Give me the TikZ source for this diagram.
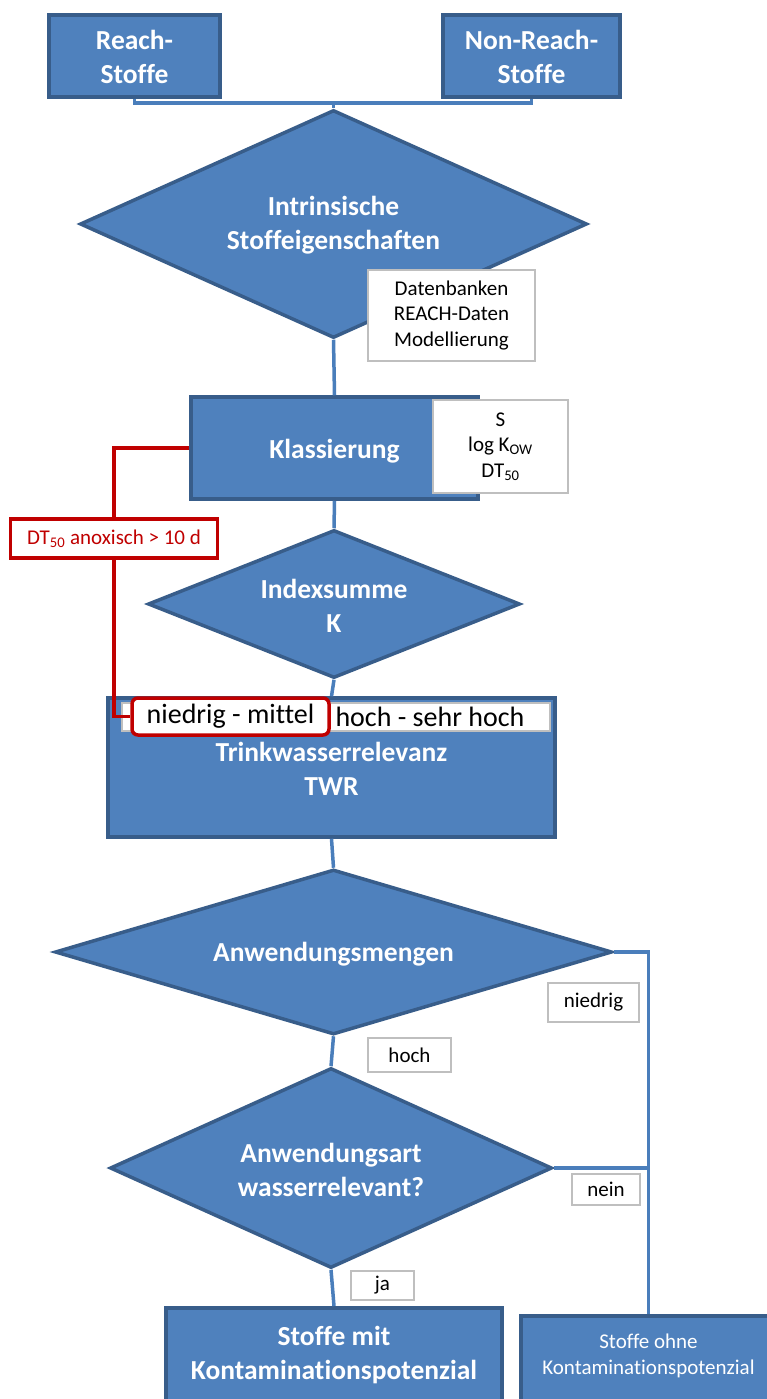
\documentclass[tikz,border=0pt]{standalone}
\usepackage{fontspec}
\setmainfont{Carlito}[Ligatures=NoCommon]
\usetikzlibrary{shapes.geometric}
\definecolor{fillb}{HTML}{4F81BD}
\definecolor{edgeb}{HTML}{385D8A}
\definecolor{lineb}{HTML}{4A7EBB}
\definecolor{redc}{HTML}{C00000}
\definecolor{grayc}{HTML}{BFBFBF}
\newcommand\myBig{\fontsize{27.5}{34}\selectfont\bfseries}
\newcommand\myMid{\fontsize{28}{32}\selectfont}
\newcommand\mySmall{\fontsize{21}{25.5}\selectfont}
\tikzset{
  bluebox/.style={draw=edgeb, fill=fillb, line width=3.5pt, inner sep=0pt},
  bluedia/.style={diamond, draw=edgeb, fill=fillb, line width=3.5pt, inner sep=0pt},
  conn/.style={draw=lineb, line width=3.5pt, line join=miter},
  redline/.style={draw=redc, line width=3.5pt, line join=miter},
  lbl/.style={draw=grayc, fill=white, line width=2.5pt, inner sep=0pt, font=\mySmall, align=center},
  wtext/.style={text=white, align=center, inner sep=0pt, font=\myBig}
}
\begin{document}
\begin{tikzpicture}[x=1pt,y=-1pt]
\useasboundingbox (0,0) rectangle (767,1399);
\clip (0,0) rectangle (767,1399);
\fill[white] (0,0) rectangle (767,1399);

% top boxes
\node[bluebox, minimum width=171pt, minimum height=82pt] (reach) at (134.5,56) {};
\node[wtext] (reacht) at (134.5,57) {Reach-\\Stoffe};
\node[bluebox, minimum width=177pt, minimum height=82pt] (nonreach) at (531.5,56) {};
\node[wtext] (nonreacht) at (531.5,57) {Non-Reach-\\Stoffe};
\coordinate (j) at (333.5,103);

% diamonds and boxes
\node[bluedia, minimum width=507pt, minimum height=228pt] (d1) at (333.5,224) {};
\node[wtext] (d1t) at (333.5,225) {Intrinsische\\Stoffeigenschaften};
\node[lbl, minimum width=167pt, minimum height=91pt] (daten) at (451.5,315.5) {Datenbanken\\REACH-Daten\\Modellierung};

\node[bluebox, minimum width=287pt, minimum height=102pt] (klass) at (334.5,448) {};
\node[wtext] (klasst) at (334.5,451) {Klassierung};
\node[lbl, minimum width=135pt, minimum height=93pt] (sbox) at (500.5,446.5) {S\\log K\textsubscript{OW}\\DT\textsubscript{50}};

\node[bluedia, minimum width=372pt, minimum height=148pt] (d2) at (334,604) {};
\node[wtext] (d2t) at (334,605.5) {Indexsumme\\K};

\node[bluebox, minimum width=447pt, minimum height=139pt] (twr) at (331.5,767.5) {};
\node[wtext] (twrt) at (331.5,769) {Trinkwasserrelevanz\\TWR};
\node[draw=grayc, fill=white, line width=2pt, minimum width=428pt, minimum height=28pt, inner sep=0pt] (strip) at (336,717) {};
\node[font=\myMid, inner sep=0pt] (hoch2) at (430,717) {hoch - sehr hoch};
\node[draw=redc, fill=white, line width=3.5pt, rounded corners=6pt, minimum width=197pt, minimum height=37pt, inner sep=0pt, font=\myMid] (nm) at (230.5,716.5) {niedrig - mittel};

\node[draw=redc, fill=white, line width=3.5pt, minimum width=207pt, minimum height=39pt, inner sep=0pt, text=redc, font=\mySmall] (dt) at (114,538.5) {DT\textsubscript{50} anoxisch > 10 d};

\node[bluedia, minimum width=557pt, minimum height=165pt] (d3) at (333.5,952) {};
\node[wtext] (d3t) at (333.5,954) {Anwendungsmengen};
\node[bluedia, minimum width=442pt, minimum height=200pt] (d4) at (331,1168) {};
\node[wtext] (d4t) at (331,1170) {Anwendungsart\\wasserrelevant?};

\node[bluebox, anchor=north, minimum width=336pt, minimum height=110pt] (mit) at (334,1306) {};
\node[wtext] (mitt) at (334,1355) {Stoffe mit\\Kontaminationspotenzial};
\node[bluebox, anchor=north, minimum width=255pt, minimum height=110pt] (ohne) at (648.5,1314) {};
\node[wtext, font=\mySmall] (ohnet) at (648.5,1356) {Stoffe ohne\\Kontaminationspotenzial};

% connectors
\draw[conn] (reach.south) |- (j) -| (nonreach.south);
\draw[conn] (j) -- (d1.north);
\draw[conn] (d1.south) -- (klass.north);
\draw[conn] (klass.south) -- (d2.north);
\draw[conn] (d2.south) -- (twr.north);
\draw[conn] (twr.south) -- (d3.north);
\draw[conn] (d3.south) -- (d4.north);
\draw[conn] (d4.south) -- (mit.north);
\draw[conn] (d3.east) -| (ohne.north);
\draw[conn] (d4.east) -- (d4.east -| ohne.north);

% red connectors
\draw[redline] (klass.west) -| (dt.north);
\draw[redline] (dt.south) |- (nm.west);

% labels
\node[lbl, minimum width=91pt, minimum height=39pt] (niedrig) at (593.5,1002.5) {niedrig};
\node[lbl, minimum width=68pt, minimum height=31pt] (nein) at (606,1189.5) {nein};
\node[lbl, minimum width=83pt, minimum height=34pt] (hoch) at (409.5,1055) {hoch};
\node[lbl, minimum width=63pt, minimum height=29pt] (ja) at (382.5,1285.5) {ja};
\end{tikzpicture}
\end{document}
